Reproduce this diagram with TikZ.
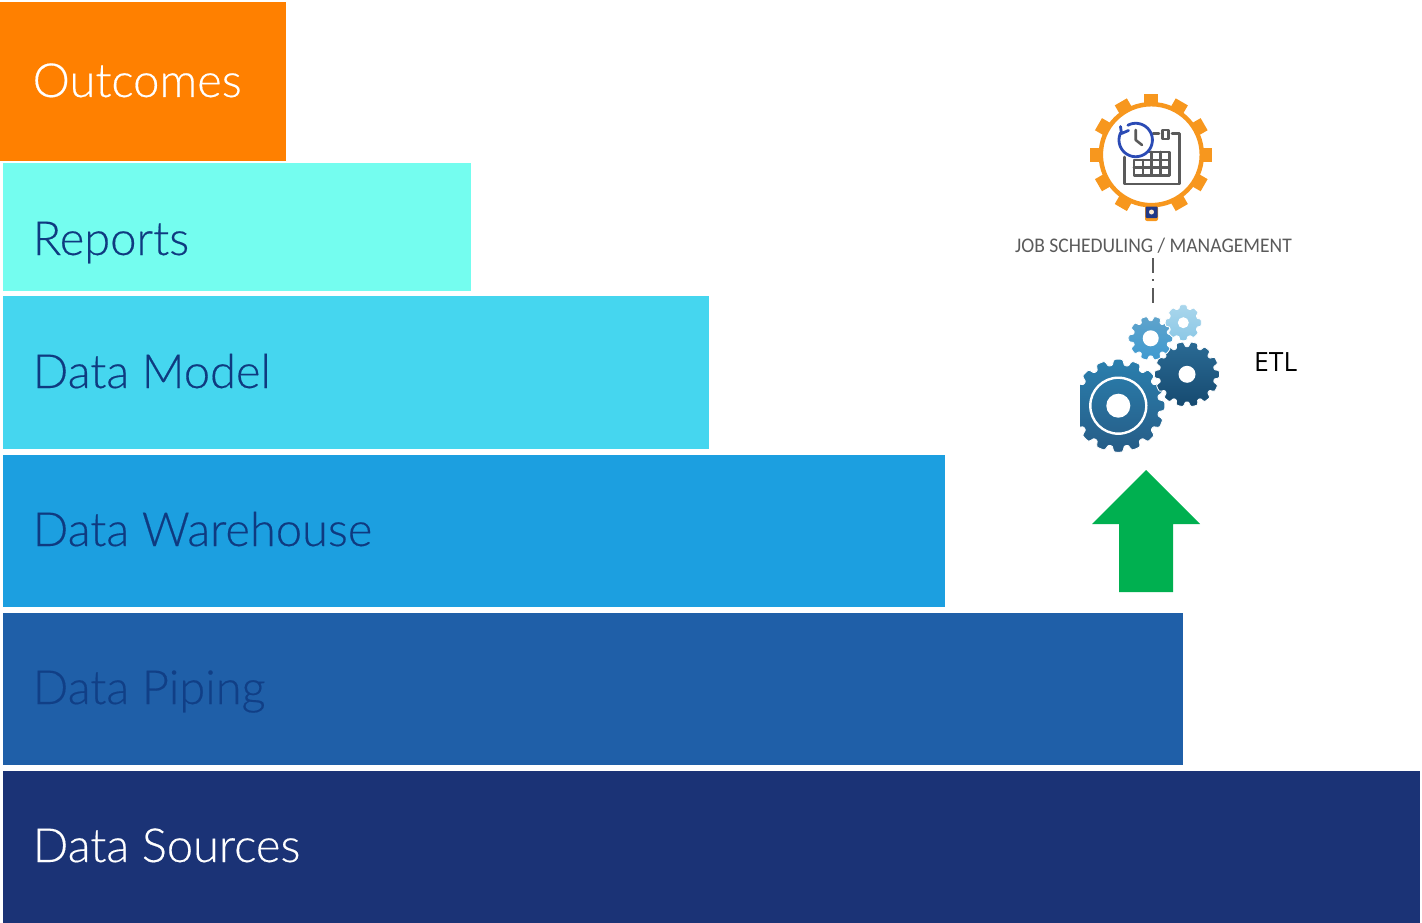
\documentclass[tikz,border=0pt]{standalone}
\usepackage{fontspec}
\setmainfont{Lato}[UprightFont=* Light,UprightFeatures={FakeBold=0.35}]
\newfontfamily\jobfont[FakeStretch=0.94]{Carlito}
\newfontfamily\etlfont{Open Sans}
\definecolor{cOut}{HTML}{FF8000}
\definecolor{cRep}{HTML}{74FDEF}
\definecolor{cMod}{HTML}{45D6EF}
\definecolor{cWar}{HTML}{1C9FE0}
\definecolor{cPip}{HTML}{1F5FA8}
\definecolor{cSrc}{HTML}{1B3376}
\definecolor{txtDark}{HTML}{0F3A80}
\definecolor{gearOr}{HTML}{F7971E}
\definecolor{calGray}{HTML}{5A5A5A}
\definecolor{clockBlue}{HTML}{2B4BB5}
\definecolor{arrowGreen}{HTML}{00B050}
\definecolor{gBigT}{HTML}{2A7FAE}
\definecolor{gBigB}{HTML}{265C86}
\definecolor{gDarkT}{HTML}{2A6A94}
\definecolor{gDarkB}{HTML}{164A70}
\definecolor{gMidT}{HTML}{5FA3CB}
\definecolor{gMidB}{HTML}{3F9AD0}
\definecolor{gLightT}{HTML}{A9D6EC}
\definecolor{gLightB}{HTML}{8CC8E6}
\tikzset{
  x=1pt,y=-1pt,
  barbox/.style={rectangle,anchor=north west,inner sep=0pt,outer sep=0pt,minimum width=#1},
  bartext/.style={anchor=base west,inner sep=0pt,font=\fontsize{47}{47}\selectfont},
  caltrace/.style={draw=calGray,line width=2.6pt,line cap=round,line join=round},
  clocktrace/.style={draw=clockBlue,line width=2.8pt,line cap=round,line join=round},
  hole/.style={fill=white},
}
% x y R root teeth phase top bottom
\newcommand{\gearat}[8]{%
  \pgfmathtruncatemacro{\gsamples}{#5*14+1}%
  \path[top color=#7,bottom color=#8,draw=white,line width=0.8pt]
   plot[domain=0:360,samples=\gsamples,smooth cycle]
   ({#1+(#4+(#3-#4)*(0.5+0.5*tanh(3*(cos(#5*\x+#6)+0.35))))*cos(\x)},
    {#2+(#4+(#3-#4)*(0.5+0.5*tanh(3*(cos(#5*\x+#6)+0.35))))*sin(\x)});%
}
\begin{document}
\begin{tikzpicture}
\useasboundingbox (0,0) rectangle (1422,923);
% bars
\node[barbox=286pt,minimum height=159pt,fill=cOut] (bOut) at (0,2) {};
\node[barbox=468pt,minimum height=128pt,fill=cRep] (bRep) at (3,163) {};
\node[barbox=705.5pt,minimum height=153pt,fill=cMod] (bMod) at (3,296) {};
\node[barbox=942pt,minimum height=152pt,fill=cWar] (bWar) at (3,455) {};
\node[barbox=1180pt,minimum height=152pt,fill=cPip] (bPip) at (3,613) {};
\node[barbox=1417pt,minimum height=152pt,fill=cSrc] (bSrc) at (3,771) {};
\node[bartext,text=white] (tOut) at (32.5,97) {Outcomes};
\node[bartext,text=txtDark] (tRep) at (32.5,255) {Reports};
\node[bartext,text=txtDark] (tMod) at (32.5,388) {Data Model};
\node[bartext,text=txtDark] (tWar) at (32.5,546) {Data Warehouse};
\node[bartext,text=txtDark!85!cPip] (tPip) at (32.5,704) {Data Piping};
\node[bartext,text=white] (tSrc) at (32.5,862) {Data Sources};
% green arrow
\fill[arrowGreen] (1146,470) -- (1200,524) -- (1173,524) -- (1173,592) -- (1119,592) -- (1119,524) -- (1092,524) -- cycle;
% job gear
\foreach \a in {0,30,...,330}{
  \ifnum\a=180\relax\else
  \fill[gearOr,rotate around={\a:(1151.3,154.7)}] (1144.3,93.7) rectangle (1158.3,106);
  \fi}
\draw[gearOr,line width=4.5pt,fill=white] (1151.3,154.7) circle (50.5);
% badge
\fill[gearOr,rounded corners=2pt] (1145,206) rectangle (1158,221);
\fill[clockBlue!75!black,rounded corners=1pt] (1145.5,206.5) rectangle (1157.5,218);
\fill[white!80!gearOr] (1151.5,212) circle (2.5);
% calendar
\draw[caltrace] (1124.3,157) -- (1124.3,184) -- (1179.3,184) -- (1179.3,133.3) -- (1172,133.3);
\draw[caltrace] (1159,133.3) -- (1153,133.3);
\draw[caltrace] (1162.7,130) rectangle (1168.7,139);
\draw[caltrace] (1134,160) rectangle (1169.3,175.7);
\draw[caltrace] (1149,152) -- (1169.3,152) -- (1169.3,160);
\draw[caltrace] (1134,167.8) -- (1169.3,167.8);
\draw[caltrace] (1143,160) -- (1143,175.7);
\draw[caltrace] (1151.7,152) -- (1151.7,175.7);
\draw[caltrace] (1160.5,152) -- (1160.5,175.7);
% clock
\fill[white] (1135.7,140) circle (17.5);
\draw[clocktrace] plot[domain=-118:205,samples=60] ({1135.7+16.7*cos(\x)},{140+16.7*sin(\x)});
\draw[clocktrace] (1120.5,126.5) -- (1121.5,133.5) -- (1128.5,130.5);
\draw[caltrace] (1135.7,130) -- (1135.7,140) -- (1142,145);
% labels
\node[anchor=base,inner sep=0pt,text=calGray,font=\jobfont\fontsize{20.8}{21}\selectfont] (jobl) at (1153.5,252) {JOB SCHEDULING / MANAGEMENT};
\node[anchor=base west,inner sep=0pt,font=\etlfont\fontsize{26.5}{26}\selectfont] (etl) at (1254,371) {ETL};
% gears
\begin{scope}
\clip (1080,350) rectangle (1170,460);
\gearat{1118.3}{405.7}{46.5}{40.5}{16}{0}{gBigT}{gBigB}
\end{scope}
\draw[white,line width=2.4pt] (1118.3,405.7) circle (28);
\fill[hole] (1118.3,405.7) circle (12);
\gearat{1187}{374.3}{32.5}{27.5}{14}{0}{gDarkT}{gDarkB}
\fill[hole] (1187,374.3) circle (8.5);
\gearat{1150.7}{338.3}{22}{17.5}{10}{0}{gMidT}{gMidB}
\fill[hole] (1150.7,338.3) circle (8);
\gearat{1183.3}{322.7}{18}{14.5}{8}{0}{gLightT}{gLightB}
\fill[hole] (1183.3,322.7) circle (5.5);
% dashed connector
\coordinate (jobfoot) at (1152.5,258);
\coordinate (etlhead) at (1152.5,303);
\draw[calGray,line width=2pt,dash pattern=on 15pt off 6pt on 2pt off 7pt] (jobfoot) -- (etlhead);
\end{tikzpicture}
\end{document}
